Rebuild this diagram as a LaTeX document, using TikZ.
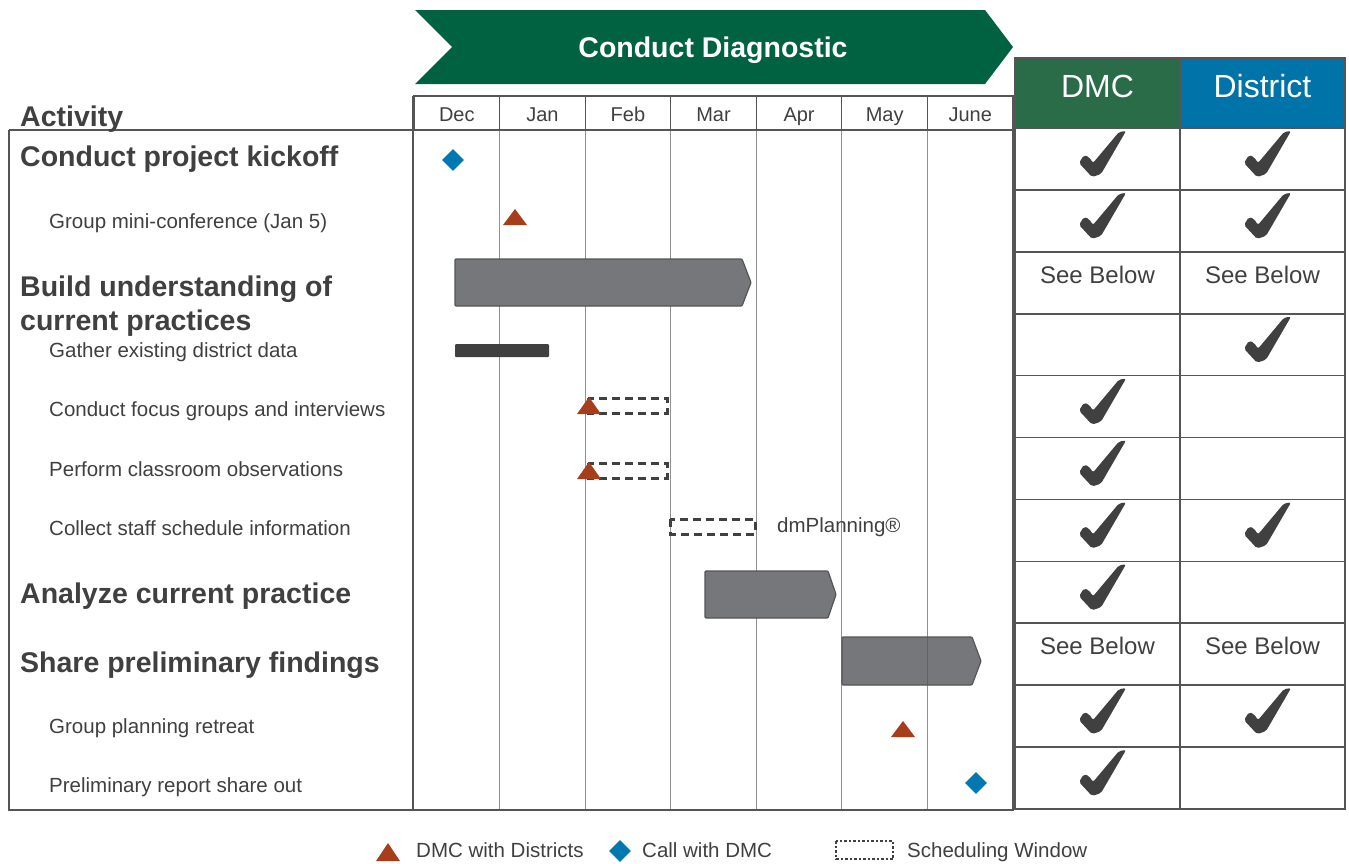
\documentclass[tikz,border=0pt]{standalone}
\usepackage{fontspec}
\setmainfont{Liberation Sans}
\usetikzlibrary{shapes.geometric}

\definecolor{chevgreen}{HTML}{006241}
\definecolor{dmcgreen}{HTML}{2A6B48}
\definecolor{distblue}{HTML}{0073A9}
\definecolor{mstone}{HTML}{A63E1C}
\definecolor{callblue}{HTML}{0078B0}
\definecolor{bargray}{HTML}{76777A}
\definecolor{txtgray}{HTML}{404040}
\definecolor{framegray}{HTML}{555555}
\definecolor{gridgray}{HTML}{909090}

\tikzset{tick/.pic={\fill[txtgray,rounded corners=2pt] (-1,2) -- (-14,-12) -- (-9,-20) -- (-4,-18) -- (0,-12) -- (26,-43) -- (33,-44) -- (8,-1) -- cycle;}}

\begin{document}
\begin{tikzpicture}[x=1pt,y=-1pt]
    \tikzstyle{head} = [anchor=base west,inner sep=0pt,text=txtgray,font=\fontsize{28.5}{34}\bfseries\selectfont]
    \tikzstyle{task} = [anchor=base west,inner sep=0pt,text=txtgray,font=\fontsize{20.5}{24}\selectfont]
    \tikzstyle{month} = [anchor=base,inner sep=0pt,text=txtgray,font=\fontsize{20}{24}\selectfont]
    \tikzstyle{frame} = [draw=framegray,line width=1.5pt]
    \tikzstyle{phase} = [fill=bargray,draw=framegray,line width=1.2pt,rounded corners=1pt]
    \tikzstyle{window} = [draw=txtgray,line width=3pt,dash pattern=on 8pt off 5pt]
    \tikzstyle{call} = [diamond,fill=callblue,inner sep=0pt,minimum width=22pt,minimum height=22pt]
    \tikzstyle{seebelow} = [inner sep=0pt,text=txtgray,font=\fontsize{24}{28}\selectfont]

    \useasboundingbox[fill=white] (0,0) rectangle (1349,863);

    % phase banner
    \fill[chevgreen] (415,10) -- (985,10) -- (1013,47) -- (985,84) -- (415,84) -- (452,47) -- cycle;
    \node[text=white,font=\fontsize{28.5}{34}\bfseries\selectfont] (banner) at (713,50) {Conduct Diagnostic};

    % months and grid
    \foreach \m [count=\i from 0] in {Dec,Jan,Feb,Mar,Apr,May,June} {
        \node[month] (m\i) at (456.8+\i*85.57,121) {\m};
    }
    \foreach \i in {1,...,6} {
        \draw[gridgray,line width=0.9pt] (414+\i*85.57,130) -- (414+\i*85.57,810);
        \draw[framegray,line width=1.2pt] (414+\i*85.57,96) -- (414+\i*85.57,130);
    }
    \draw[frame] (414,96) rectangle (1013,130);
    \draw[frame] (9,130) -- (1013,130);
    \draw[frame] (9,130) -- (9,810) -- (1013,810) -- (1013,96);
    \draw[frame] (413,96) -- (413,810);

    % activities
    \node[head] (act) at (20,126) {Activity};
    \node[head] (a1) at (20,166) {Conduct project kickoff};
    \node[task] (a2) at (49,228) {Group mini-conference (Jan 5)};
    \node[head] (a3) at (20,296) {Build understanding of};
    \node[head] (a3b) at (20,330) {current practices};
    \node[task] (a4) at (49,357) {Gather existing district data};
    \node[task] (a5) at (49,416) {Conduct focus groups and interviews};
    \node[task] (a6) at (49,476) {Perform classroom observations};
    \node[task] (a7) at (49,535) {Collect staff schedule information};
    \node[head] (a8) at (20,603) {Analyze current practice};
    \node[head] (a9) at (20,672) {Share preliminary findings};
    \node[task] (a10) at (49,733) {Group planning retreat};
    \node[task] (a11) at (49,792) {Preliminary report share out};

    % schedule
    \node[call] (k1) at (453,160) {};
    \fill[mstone] (503,225) -- (515,209) -- (527,225) -- cycle;
    \draw[phase] (455,259) -- (742,259) -- (751,282.5) -- (742,306) -- (455,306) -- cycle;
    \fill[txtgray,rounded corners=1pt] (455,344) rectangle (549,357);
    \draw[window] (588,398) rectangle (667,413);
    \fill[mstone] (577,414) -- (589,397) -- (601,414) -- cycle;
    \draw[window] (588,463) rectangle (667,478);
    \fill[mstone] (577,479) -- (589,462) -- (601,479) -- cycle;
    \draw[window] (670,519) rectangle (755,534);
    \node[task] (tool) at (777,532) {dmPlanning®};
    \draw[phase] (705,571) -- (828,571) -- (836,594.5) -- (828,618) -- (705,618) -- cycle;
    \draw[phase] (842,637) -- (972,637) -- (981,661) -- (972,685) -- (842,685) -- cycle;
    \draw[framegray,line width=0.9pt,opacity=0.6] (927.7,637) -- (927.7,685);
    \fill[mstone] (891,737) -- (903,721) -- (915,737) -- cycle;
    \node[call] (k2) at (976,783) {};

    % responsibility table
    \fill[dmcgreen] (1015,58) rectangle (1180,128);
    \fill[distblue] (1180,58) rectangle (1345,128);
    \node[text=white,font=\fontsize{32}{36}\selectfont] (dmc) at (1097.5,86) {DMC};
    \node[text=white,font=\fontsize{32}{36}\selectfont] (dist) at (1262.5,86) {District};
    \foreach \r in {0,...,10} {
        \draw[frame] (1015,128+\r*61.9) rectangle (1345,190+\r*61.9);
    }
    \draw[frame] (1180,58) -- (1180,809);
    \draw[frame] (1015,58) rectangle (1345,809);
    \foreach \r in {0,1,4,5,6,7,9,10} {
        \pic at (1093,175+\r*61.9) {tick};
    }
    \foreach \r in {0,1,3,6,9} {
        \pic at (1258,175+\r*61.9) {tick};
    }
    \node[seebelow] (sb1) at (1097.5,275) {See Below};
    \node[seebelow] (sb2) at (1262.5,275) {See Below};
    \node[seebelow] (sb3) at (1097.5,646) {See Below};
    \node[seebelow] (sb4) at (1262.5,646) {See Below};

    % legend
    \fill[mstone] (376,861) -- (388,843) -- (400,861) -- cycle;
    \node[task] (lg1) at (416,857) {DMC with Districts};
    \node[call] (lg2m) at (620,851) {};
    \node[task] (lg2) at (642,857) {Call with DMC};
    \draw[txtgray,line width=2.5pt,dotted] (836,841) rectangle (893,859);
    \node[task] (lg3) at (907,857) {Scheduling Window};
\end{tikzpicture}
\end{document}
